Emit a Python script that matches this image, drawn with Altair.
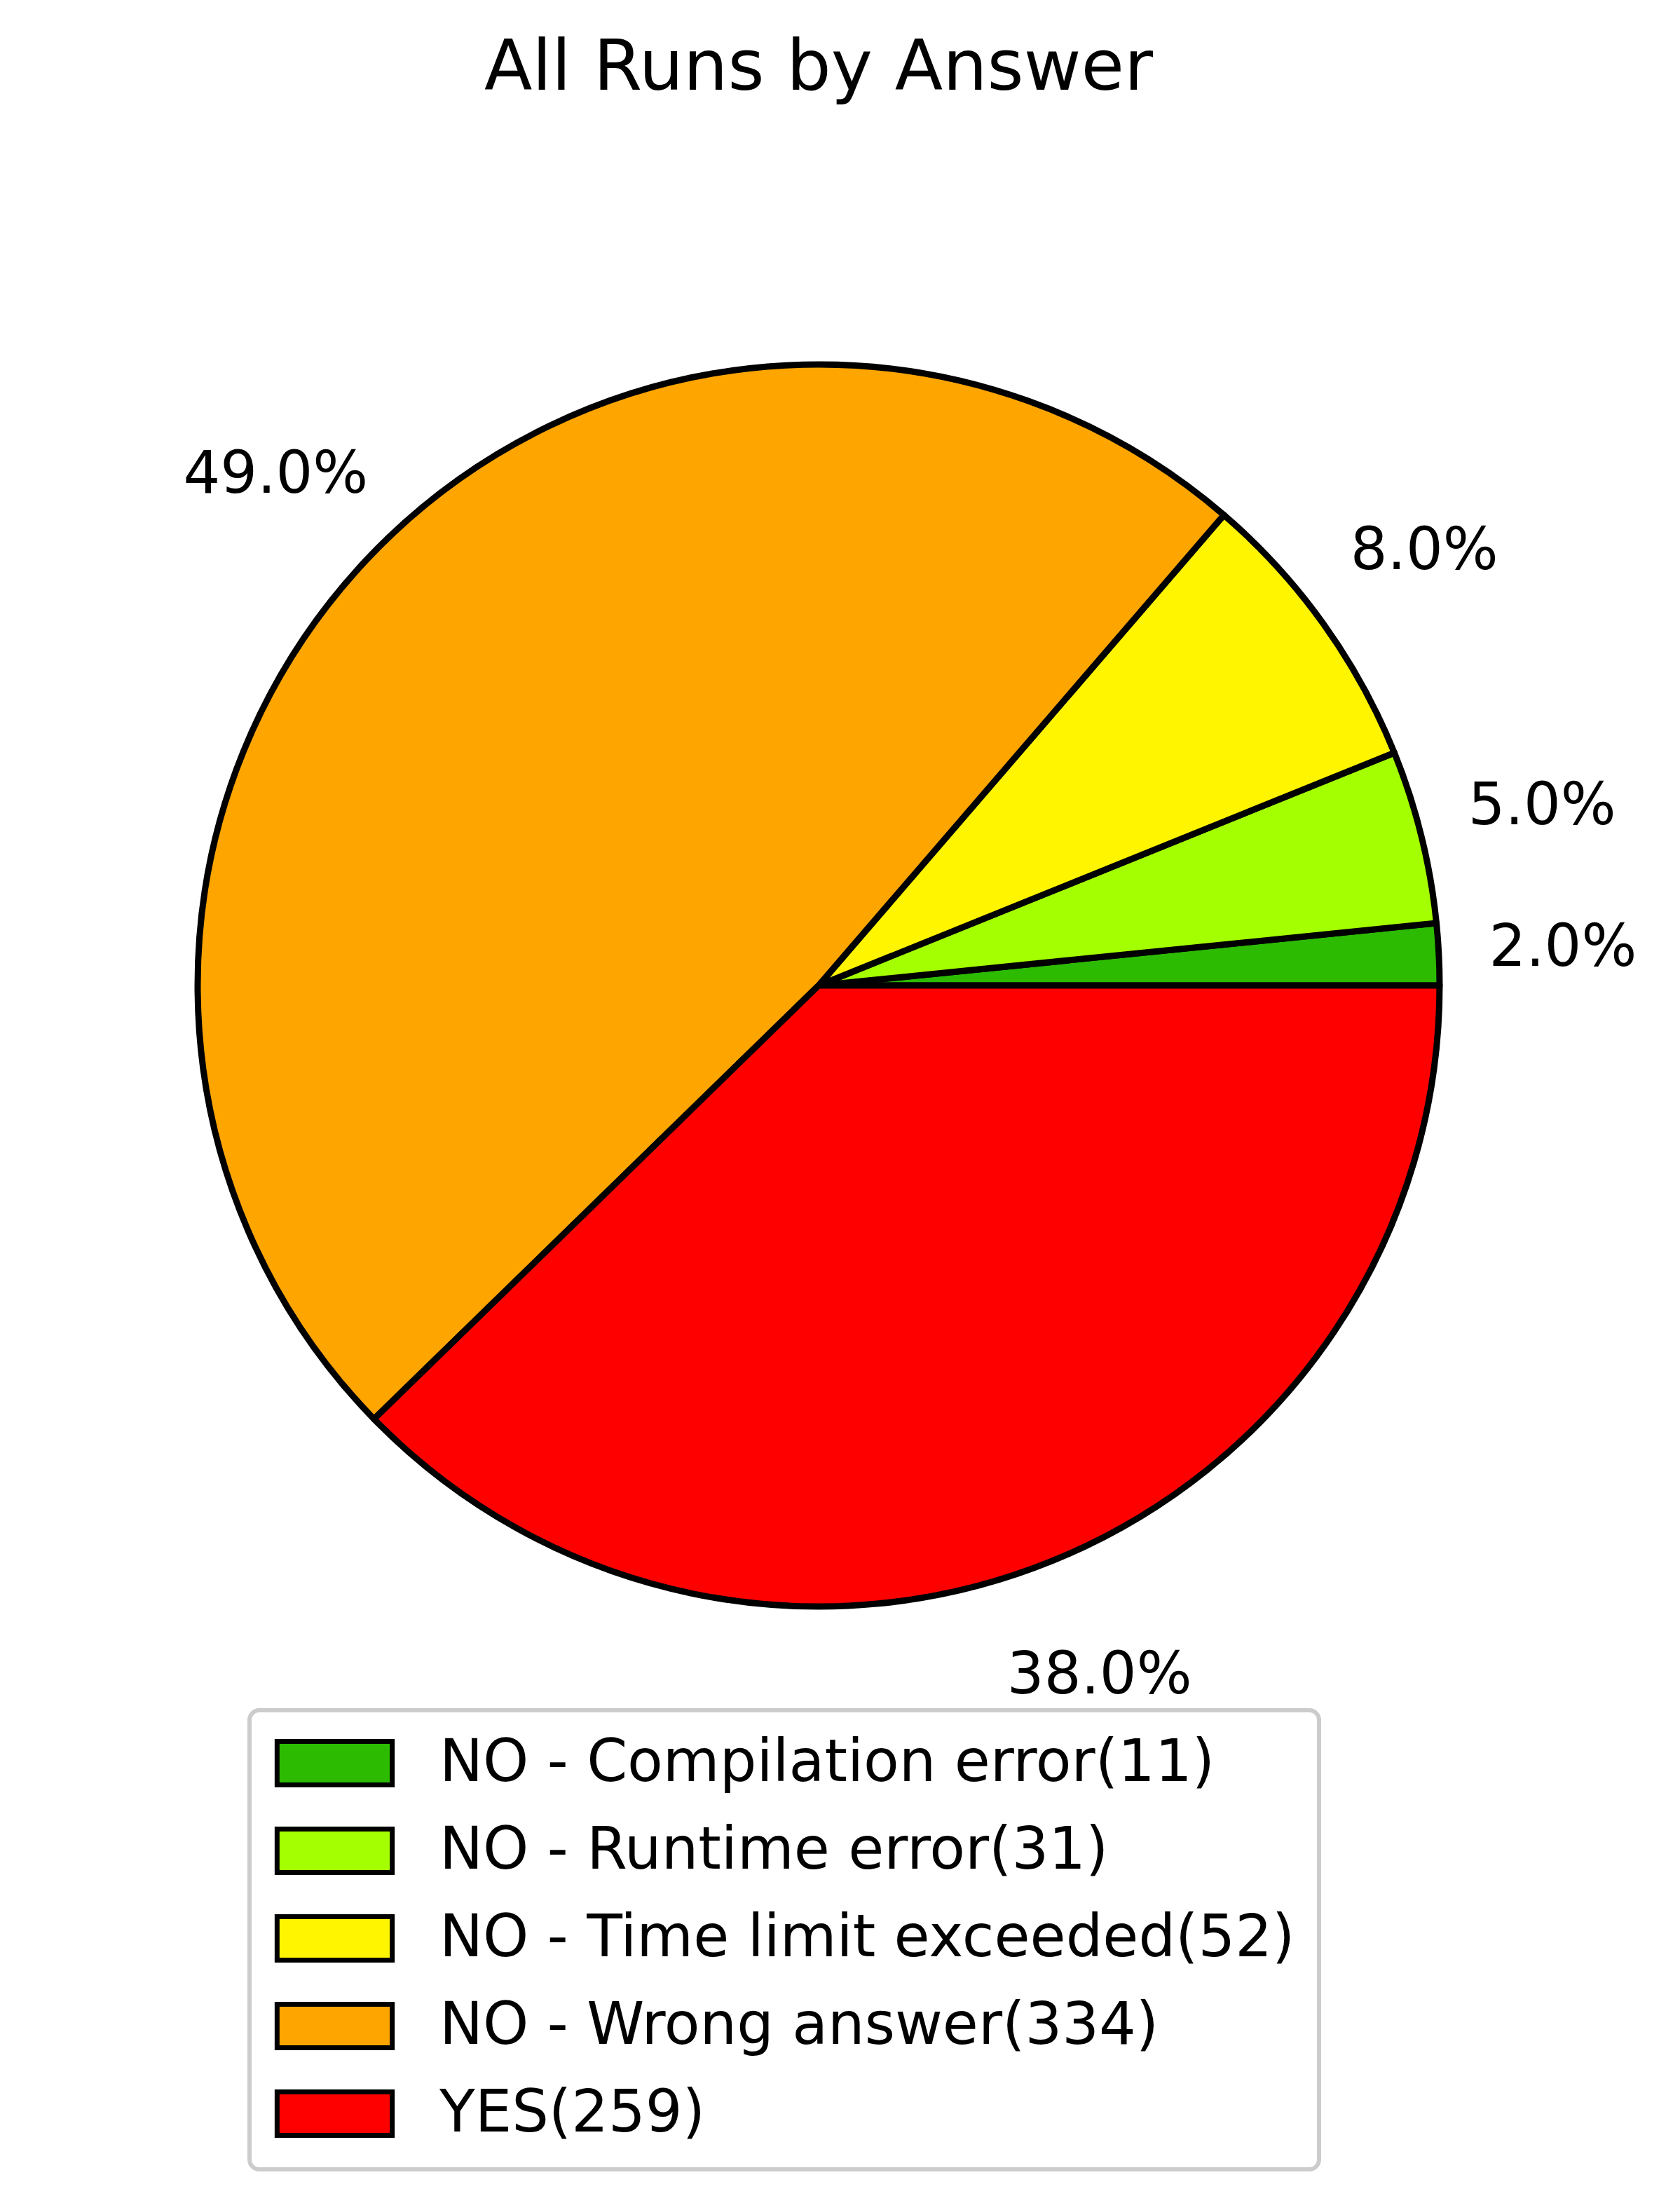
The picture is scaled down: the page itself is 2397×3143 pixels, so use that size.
import math
import altair as alt
import pandas as pd

# ---- data ----
categories = ["NO - Compilation error", "NO - Runtime error", "NO - Time limit exceeded",
              "NO - Wrong answer", "YES"]
counts = [11, 31, 52, 334, 259]
pct_labels = ["2.0%", "5.0%", "8.0%", "49.0%", "38.0%"]
colors = ["#2cbb00", "#a4ff00", "#fff500", "#ffa500", "#ff0000"]
# clockwise drawing order starting at 3 o'clock (matplotlib counter-clockwise reversed)
draw_order = [4, 3, 2, 1, 0]

legend_labels = [f"{c}({n})" for c, n in zip(categories, counts)]
df = pd.DataFrame({
    "answer": legend_labels,
    "shadow": legend_labels,
    "count": counts,
    "pct": pct_labels,
    "ord": draw_order,
})

FONT = "DejaVu Sans"
R = 886
W, H = 2320, 2204
PAD_TOP = 296
LX, LY = 348, 2136
SYMBOL = "M-2.65,-1L2.65,-1L2.65,1L-2.65,1Z"

theta_scale = alt.Scale(range=[math.pi / 2, math.pi / 2 + 2 * math.pi])
color_scale = alt.Scale(domain=legend_labels, range=colors)

common_legend = dict(
    orient="none",
    title=None,
    labelFont=FONT,
    labelFontSize=83,
    labelLimit=2000,
    symbolOffset=46,
    padding=34,
    cornerRadius=14,
)

base = alt.Chart(df).encode(
    theta=alt.Theta("count:Q", stack=True, scale=theta_scale),
    order=alt.Order("ord:Q", sort="ascending"),
)

pie = base.mark_arc(radius=R, stroke="black", strokeWidth=9, strokeJoin="round").encode(
    color=alt.Color(
        "answer:N",
        scale=color_scale,
        legend=alt.Legend(
            legendX=LX,
            legendY=LY,
            labelColor="black",
            labelOffset=108,
            symbolType=SYMBOL,
            symbolSize=3844,
            symbolStrokeColor="black",
            symbolStrokeWidth=7,
            symbolOpacity=1,
            strokeColor="#cccccc",
            fillColor="white",
            zindex=1,
            **common_legend,
        ),
    )
)

labels = base.mark_text(radius=R * 1.2, font=FONT, fontSize=83, color="black",
                        align="center", baseline="middle").encode(text="pct:N")

# invisible layer whose legend frame draws the legend's drop shadow
# (domain listed in reverse so that it is not merged with the colour legend)
shadow = alt.Chart(df).mark_point(size=0, opacity=0, filled=True).encode(
    fill=alt.Fill(
        "shadow:N",
        scale=alt.Scale(domain=legend_labels[::-1], range=["#a6a6a6"] * 5),
        legend=alt.Legend(
            legendX=LX + 16,
            legendY=LY + 16,
            labelExpr="''",
            labelOffset=1305,
            labelColor="#a6a6a6",
            symbolType="square",
            symbolSize=6889,
            symbolOpacity=0,
            symbolStrokeWidth=0,
            strokeColor="#999999",
            fillColor="#a6a6a6",
            zindex=0,
            **common_legend,
        ),
    )
)

chart = (
    alt.layer(pie, labels, shadow)
    .resolve_scale(color="independent", fill="independent")
    .properties(
        width=W,
        height=H,
        autosize=alt.AutoSizeParams(type="none"),
        padding={"top": PAD_TOP, "left": 0, "right": 60, "bottom": 610},
        title=alt.TitleParams(
            "All Runs by Answer",
            font=FONT,
            fontSize=100,
            fontWeight="normal",
            color="black",
            anchor="middle",
            baseline="alphabetic",
            offset=76,
        ),
    )
    .configure_view(strokeWidth=0)
    .configure_legend(rowPadding=34, strokeWidth=6)
)

chart.save("out.html", embed_options={"renderer": "svg", "actions": False})
